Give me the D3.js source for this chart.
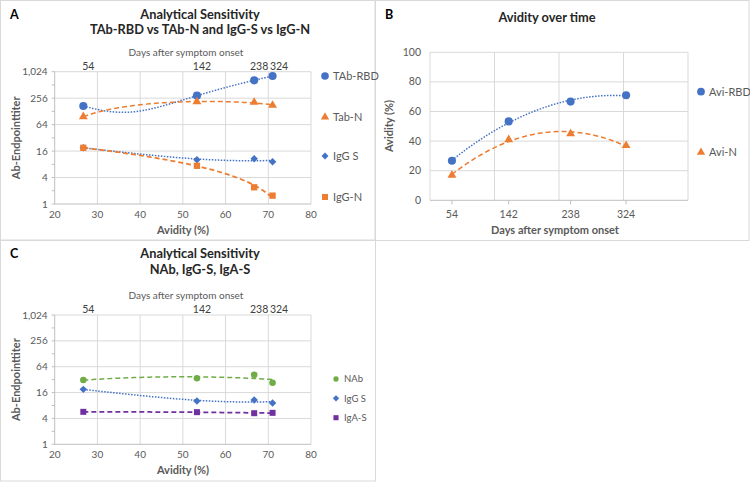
<!DOCTYPE html>
<html><head><meta charset="utf-8">
<script src="https://cdn.jsdelivr.net/npm/d3@7"></script>
<style>
html,body{margin:0;padding:0;background:#fff;}
svg{display:block;font-family:Lato,"Open Sans",sans-serif;}
</style></head>
<body>
<svg id="chart" width="750" height="482"></svg>
<script>
// ---- data ----
const days = [54, 142, 238, 324];
const avidityRBD = [26.7, 53.3, 66.7, 71.0];   // Avi-RBD (%), also x of panels A and C
const avidityN = [17, 41, 45, 37];              // Avi-N (%)
const tabRBD = [170, 292, 652, 816];
const tabN = [97, 212, 206, 176];
const igGS = [19, 10.2, 10.7, 9.1];
const igGN = [19, 7.4, 2.4, 1.55];
const nAb = [31.4, 34.4, 41.7, 27];
const igAS = [5.7, 5.6, 5.3, 5.4];
const titerTicks = [1, 4, 16, 64, 256, 1024];
const avidityTicks = [20, 30, 40, 50, 60, 70, 80];
const percentTicks = [0, 20, 40, 60, 80, 100];
const dayGrid = [20, 120, 220, 320, 420];

const C = {blue:"#4472C4", orange:"#ED7D31", green:"#70AD47", purple:"#7030A0",
           grid:"#d9d9d9", text:"#595959", dark:"#404040", title:"#262626"};

const svg = d3.select("#chart");
const fmt = d3.format(",");

// ---- polynomial (order 2) least squares trendline ----
function polyFit(xs, ys){
  const n = xs.length; let S=[0,0,0,0,0], T=[0,0,0];
  for(let i=0;i<n;i++){ for(let k=0;k<5;k++) S[k]+=Math.pow(xs[i],k); for(let k=0;k<3;k++) T[k]+=ys[i]*Math.pow(xs[i],k); }
  const M=[[S[0],S[1],S[2],T[0]],[S[1],S[2],S[3],T[1]],[S[2],S[3],S[4],T[2]]];
  for(let i=0;i<3;i++){ let p=i; for(let r=i+1;r<3;r++) if(Math.abs(M[r][i])>Math.abs(M[p][i])) p=r; [M[i],M[p]]=[M[p],M[i]];
    for(let r=0;r<3;r++){ if(r===i) continue; const f=M[r][i]/M[i][i]; for(let c=i;c<4;c++) M[r][c]-=f*M[i][c]; } }
  const a=[M[0][3]/M[0][0], M[1][3]/M[1][1], M[2][3]/M[2][2]];
  return x => a[0]+a[1]*x+a[2]*x*x;
}
function trend(g, xs, ys, x, y, color, dash, width, minV){
  const f = polyFit(xs, ys);
  const lo = d3.min(xs), hi = d3.max(xs);
  const pts = d3.range(0, 61).map(i => { const xv = lo + (hi-lo)*i/60; return [x(xv), y(Math.max(minV, f(xv)))]; });
  g.append("path").attr("d", d3.line()(pts)).attr("fill","none").attr("stroke",color)
   .attr("stroke-width",width).attr("stroke-dasharray",dash);
}
function marker(g, type, cx, cy, size, color){
  const sym = {circle:d3.symbolCircle, triangle:d3.symbolTriangle, diamond:d3.symbolSquare, square:d3.symbolSquare}[type];
  const rot = type === "diamond" ? " rotate(45)" : "";
  g.append("path").attr("d", d3.symbol().type(sym).size(size)()).attr("transform",`translate(${cx},${cy})${rot}`).attr("fill",color);
}

// ---- panel frames ----
[[0.5,0.5,375,240],[375,0.5,374,240],[0.5,240,375,241]].forEach(r=>{
  svg.append("rect").attr("x",r[0]).attr("y",r[1]).attr("width",r[2]).attr("height",r[3])
    .attr("fill","none").attr("stroke",C.grid).attr("stroke-width",1);
});

// ---- panel A / C builder ----
function titerPanel(opt){
  const g = svg.append("g");
  const x = d3.scaleLinear().domain([20,80]).range([54.7,311]);
  const y = d3.scaleLog().base(2).domain([1,1024]).range([opt.bottom, opt.top]);
  // gridlines
  g.selectAll(".vg").data(avidityTicks.slice(1)).join("line")
    .attr("x1",d=>x(d)).attr("x2",d=>x(d)).attr("y1",opt.top).attr("y2",opt.bottom).attr("stroke",C.grid);
  g.selectAll(".hg").data(titerTicks.slice(1)).join("line")
    .attr("x1",x(20)).attr("x2",x(80)).attr("y1",d=>y(d)).attr("y2",d=>y(d)).attr("stroke",C.grid);
  // axes lines
  g.append("line").attr("x1",x(20)).attr("x2",x(20)).attr("y1",opt.top).attr("y2",opt.bottom).attr("stroke","#bfbfbf");
  g.append("line").attr("x1",x(20)).attr("x2",x(80)).attr("y1",opt.bottom).attr("y2",opt.bottom).attr("stroke","#bfbfbf");
  // minor ticks
  const minor = d3.range(0,11).map(k=>Math.pow(2,k));
  g.selectAll(".mt").data(minor).join("line")
    .attr("x1",x(20)-3).attr("x2",x(20)).attr("y1",d=>y(d)).attr("y2",d=>y(d)).attr("stroke","#bfbfbf");
  // tick labels
  g.selectAll(".yl").data(titerTicks).join("text")
    .attr("x",x(20)-7).attr("y",d=>y(d)+3.5).attr("text-anchor","end")
    .attr("font-size",10).attr("fill",C.text).text(d=>fmt(d));
  g.selectAll(".xl").data(avidityTicks).join("text")
    .attr("x",d=>x(d)).attr("y",opt.bottom+14).attr("text-anchor","middle")
    .attr("font-size",10).attr("fill",C.text).text(d=>d);
  // top labels (days)
  g.selectAll(".tl").data(days).join("text")
    .attr("x",(d,i)=>x(avidityRBD[i])+(i===2?5:i===3?6.5:5)).attr("y",opt.top-2).attr("text-anchor","middle")
    .attr("font-size",10.5).attr("fill",C.dark).text(d=>d);
  g.append("text").attr("x",186).attr("y",opt.top-16).attr("text-anchor","middle")
    .attr("font-size",10).attr("fill",C.text).text("Days after symptom onset");
  // axis titles
  g.append("text").attr("x",183).attr("y",opt.bottom+30).attr("text-anchor","middle")
    .attr("font-size",11).attr("font-weight","bold").attr("fill",C.text).text("Avidity (%)");
  g.append("text").attr("transform",`translate(20,${(opt.top+opt.bottom)/2}) rotate(-90)`).attr("text-anchor","middle")
    .attr("font-size",11).attr("font-weight","bold").attr("fill",C.text).text("Ab-Endpointtiter");
  // titles
  g.append("text").attr("x",10).attr("y",opt.titleY).attr("font-size",12.5).attr("font-weight","bold").attr("fill","#000").text(opt.letter);
  opt.title.forEach((t,i)=>g.append("text").attr("x",200).attr("y",opt.titleY+i*15.5).attr("text-anchor","middle")
    .attr("font-size",12.8).attr("font-weight","bold").attr("fill",C.title).text(t));
  // series
  opt.series.forEach(s=>{
    trend(g, avidityRBD, s.values, x, y, s.color, s.dash, s.width, 1.2);
  });
  opt.series.forEach(s=>{
    s.values.forEach((v,i)=>marker(g, s.marker, x(avidityRBD[i]), y(v), s.size, s.color));
    marker(g, s.marker, opt.legendX, s.ly, s.lsize, s.color);
    g.append("text").attr("x",opt.legendX+8).attr("y",s.ly+opt.legendFont*0.36).attr("font-size",opt.legendFont)
      .attr("fill",C.text).text(s.name);
  });
}

const dotted = "1.5,1.5", dashed = "5,3";
titerPanel({letter:"A", titleY:18.5, title:["Analytical Sensitivity","TAb-RBD vs TAb-N and IgG-S vs IgG-N"],
  top:71.7, bottom:204, legendX:325, legendFont:11,
  series:[
    {name:"TAb-RBD", values:tabRBD, color:C.blue, marker:"circle", size:52, lsize:46, ly:76, dash:dotted, width:1.5},
    {name:"Tab-N", values:tabN, color:C.orange, marker:"triangle", size:34, lsize:30, ly:117, dash:dashed, width:1.5},
    {name:"IgG S", values:igGS, color:C.blue, marker:"diamond", size:28, lsize:24, ly:156, dash:dotted, width:1.5},
    {name:"IgG-N", values:igGN, color:C.orange, marker:"square", size:40, lsize:36, ly:197, dash:dashed, width:1.75}
  ]});
titerPanel({letter:"C", titleY:258, title:["Analytical Sensitivity","NAb, IgG-S, IgA-S"],
  top:315, bottom:444.3, legendX:336, legendFont:9.5,
  series:[
    {name:"NAb", values:nAb, color:C.green, marker:"circle", size:34, lsize:22, ly:379, dash:dashed, width:1.5},
    {name:"IgG S", values:igGS, color:C.blue, marker:"diamond", size:28, lsize:20, ly:398.3, dash:dotted, width:1.5},
    {name:"IgA-S", values:igAS, color:C.purple, marker:"square", size:36, lsize:26, ly:417.7, dash:dashed, width:1.75}
  ]});

// ---- panel B ----
(function(){
  const g = svg.append("g");
  const x = d3.scaleLinear().domain([20,420]).range([430,688]);
  const y = d3.scaleLinear().domain([0,100]).range([200.3,52.3]);
  g.selectAll(".vg").data(dayGrid.slice(1)).join("line")
    .attr("x1",d=>x(d)).attr("x2",d=>x(d)).attr("y1",y(100)).attr("y2",y(0)).attr("stroke",C.grid);
  g.selectAll(".hg").data(percentTicks.slice(1)).join("line")
    .attr("x1",x(20)).attr("x2",x(420)).attr("y1",d=>y(d)).attr("y2",d=>y(d)).attr("stroke",C.grid);
  g.append("line").attr("x1",x(20)).attr("x2",x(20)).attr("y1",y(100)).attr("y2",y(0)).attr("stroke",C.grid);
  g.append("line").attr("x1",x(20)).attr("x2",x(420)).attr("y1",y(0)).attr("y2",y(0)).attr("stroke","#bfbfbf");
  g.selectAll(".xt").data(days).join("line")
    .attr("x1",d=>x(d)).attr("x2",d=>x(d)).attr("y1",y(0)).attr("y2",y(0)+4).attr("stroke","#bfbfbf");
  g.selectAll(".yl").data(percentTicks).join("text")
    .attr("x",x(20)-9).attr("y",d=>y(d)+3.5).attr("text-anchor","end")
    .attr("font-size",10.5).attr("fill",C.text).text(d=>d);
  g.selectAll(".xl").data(days).join("text")
    .attr("x",d=>x(d)).attr("y",218).attr("text-anchor","middle")
    .attr("font-size",10.5).attr("fill",C.text).text(d=>d);
  g.append("text").attr("x",555).attr("y",234).attr("text-anchor","middle")
    .attr("font-size",11).attr("font-weight","bold").attr("fill",C.text).text("Days after symptom onset");
  g.append("text").attr("transform",`translate(393,126) rotate(-90)`).attr("text-anchor","middle")
    .attr("font-size",11).attr("font-weight","bold").attr("fill",C.text).text("Avidity (%)");
  g.append("text").attr("x",385).attr("y",18.5).attr("font-size",12.5).attr("font-weight","bold").attr("fill","#000").text("B");
  g.append("text").attr("x",547).attr("y",21.5).attr("text-anchor","middle")
    .attr("font-size",12.8).attr("font-weight","bold").attr("fill",C.title).text("Avidity over time");
  const series = [
    {name:"Avi-RBD", values:avidityRBD, color:C.blue, marker:"circle", size:52, ly:91.7, dash:dotted, width:1.5},
    {name:"Avi-N", values:avidityN, color:C.orange, marker:"triangle", size:34, ly:152.3, dash:dashed, width:1.5}
  ];
  series.forEach(s=>trend(g, days, s.values, x, y, s.color, s.dash, s.width, 0));
  series.forEach(s=>{
    s.values.forEach((v,i)=>marker(g, s.marker, x(days[i]), y(v), s.size, s.color));
    marker(g, s.marker, 701, s.ly, s.size*0.9, s.color);
    g.append("text").attr("x",709).attr("y",s.ly+4).attr("font-size",11).attr("fill",C.text).text(s.name);
  });
})();
</script>
</body></html>
